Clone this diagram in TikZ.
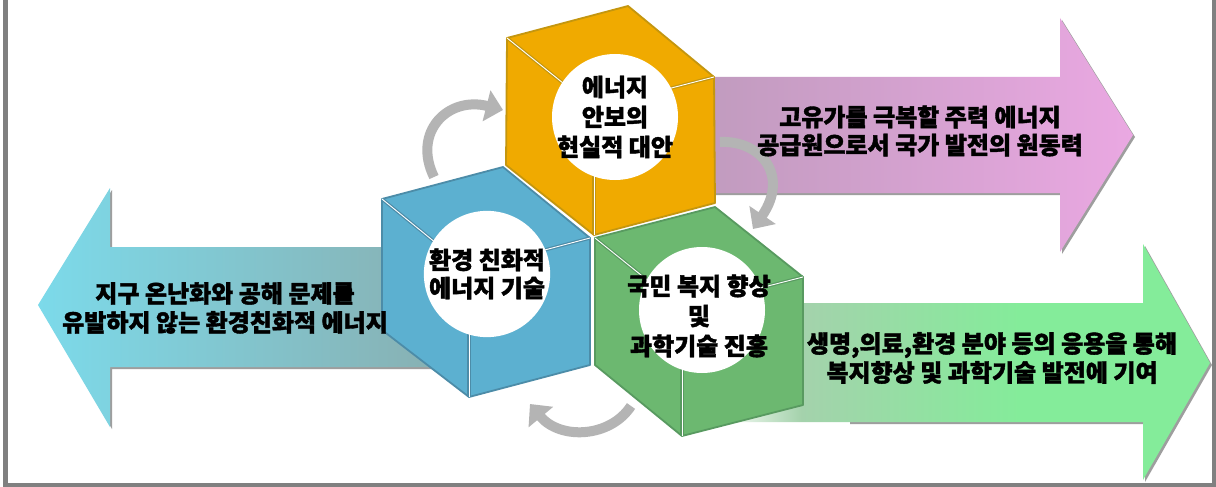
\documentclass[tikz,border=0pt]{standalone}
\usepackage{fontspec}
\newfontfamily\kor[BoldFont={Noto Sans CJK KR Black}, BoldFeatures={FakeBold=1.6}]{Noto Sans CJK KR}
\usepackage{tikz}
\usetikzlibrary{arrows.meta, positioning, calc}

\definecolor{framegray}{HTML}{808080}
\definecolor{cyclegray}{HTML}{B4B4B4}
\definecolor{orangecube}{HTML}{F0AA00}
\definecolor{orangeedge}{HTML}{C4960F}
\definecolor{bluecube}{HTML}{5CB0D0}
\definecolor{blueedge}{HTML}{4C8CA8}
\definecolor{greencube}{HTML}{6CB870}
\definecolor{greenedge}{HTML}{589A60}
\definecolor{sciencepale}{RGB}{236,246,236}
\definecolor{sciencemid}{RGB}{164,210,172}
\definecolor{sciencefull}{RGB}{132,236,154}
\definecolor{climatefull}{RGB}{124,218,234}
\definecolor{climatemid}{RGB}{128,206,218}
\definecolor{climateend}{RGB}{136,176,178}
\definecolor{fuelstart}{RGB}{192,155,190}
\definecolor{fuelfull}{RGB}{234,168,226}

\pgfdeclarehorizontalshading{sciencefade}{100bp}{color(0bp)=(sciencepale); color(25bp)=(sciencepale); color(32bp)=(sciencemid); color(55bp)=(sciencefull); color(100bp)=(sciencefull)}

\tikzset{
  hub/.style={circle, fill=white, minimum size=126pt, inner sep=0pt, align=center, font=\hubfont},
  arrowtext/.style={inner sep=0pt, align=center, font=\hubfont},
  cubeedge/.style={line width=1.8pt, line join=round},
  ridge/.style={line width=1.2pt, double=white, double distance=0.9pt},
  cyclearrow/.style={draw=cyclegray, line width=10pt, -{Triangle[length=17pt, width=31pt]}},
  arrowshadow/.style={fill=black!38, draw=none},
}
\newcommand{\hubfont}{\kor\bfseries\fontsize{24}{30}\selectfont}

\begin{document}
\begin{tikzpicture}[x=1pt, y=-1pt]
\useasboundingbox (0,0) rectangle (1216,487);
\fill[white] (0,0) rectangle (1216,487);
\draw[framegray, line width=4.6pt] (5.6,-6) -- (5.6,484.8) -- (1214.2,484.8) -- (1214.2,-6);

% big arrows behind the cubes
\fill[arrowshadow] (700,79) -- (1062,79) -- (1062,20) -- (1135,137) -- (1062,254) -- (1062,195) -- (700,195) -- cycle;
\shade[left color=fuelstart, middle color=fuelstart!45!fuelfull, right color=fuelfull]
  (700,77) -- (1060,77) -- (1060,18) -- (1133,135) -- (1060,252) -- (1060,193) -- (700,193) -- cycle;

\fill[arrowshadow] (850,305) -- (1145,305) -- (1145,246) -- (1212,365) -- (1145,482) -- (1145,424) -- (850,424) -- cycle;
\shade[shading=sciencefade]
  (735,303) -- (1143,303) -- (1143,244) -- (1210,363) -- (1143,480) -- (1143,422) -- (735,422) -- cycle;

\fill[arrowshadow] (112,190) -- (112,249) -- (440,249) -- (440,369) -- (112,369) -- (112,429) -- (40,307) -- cycle;
\shade[left color=climatefull, middle color=climatemid, right color=climateend]
  (110,188) -- (110,247) -- (440,247) -- (440,367) -- (110,367) -- (110,427) -- (38,305) -- cycle;

% cycle arrows between the cubes
\coordinate (bluestart) at (434,177);
\coordinate (orangeend) at (503,110);
\coordinate (orangestart) at (720,142);
\coordinate (greenend) at (753,229);
\coordinate (greenstart) at (631,406);
\coordinate (blueend) at (530,404);
\draw[cyclearrow] (bluestart) .. controls (412,132) and (448,96) .. (orangeend);
\draw[cyclearrow] (orangestart) .. controls (760,140) and (790,175) .. (greenend);
\draw[cyclearrow] (greenstart) .. controls (610,438) and (560,440) .. (blueend);

% orange cube
\filldraw[fill=orangecube, draw=orangeedge, cubeedge] (507,38) -- (628,6) -- (714,77) -- (715,203) -- (594,235) -- (506,165) -- cycle;
\draw[ridge, draw=orangeedge] (507,38) -- (594,108);
\draw[ridge, draw=orangeedge] (714,77) -- (594,108);
\draw[ridge, draw=orangeedge] (594,235) -- (594,108);
\node[hub] (energyhub) at (615,117) {};
\node[arrowtext] (energytext) at (615,117) {에너지\\안보의\\현실적 대안};

% blue cube
\filldraw[fill=bluecube, draw=blueedge, cubeedge] (382,199) -- (503,167) -- (590,238) -- (590,365) -- (469,397) -- (382,330) -- cycle;
\draw[ridge, draw=blueedge] (382,199) -- (469,270);
\draw[ridge, draw=blueedge] (590,238) -- (469,270);
\draw[ridge, draw=blueedge] (469,397) -- (469,270);
\node[hub] (ecohub) at (487,274) {환경 친화적\\[-2pt]에너지 기술};

% green cube
\filldraw[fill=greencube, draw=greenedge, cubeedge] (595,238) -- (715,207) -- (803,277) -- (803,405) -- (682,436) -- (595,365) -- cycle;
\draw[ridge, draw=greenedge] (595,238) -- (682,308);
\draw[ridge, draw=greenedge] (803,277) -- (682,308);
\draw[ridge, draw=greenedge] (682,436) -- (682,308);
\node[hub] (welfarehub) at (702,310) {};
\node[arrowtext] (welfaretext) at (699,316) {국민 복지 향상\\및\\과학기술 진흥};

% labels on the big arrows
\node[arrowtext] (fuellabel) at (920,131) {고유가를 극복할 주력 에너지\\[-2pt]공급원으로서 국가 발전의 원동력};
\node[arrowtext] (climatelabel) at (225,308) {지구 온난화와 공해 문제를\\[-1pt]유발하지 않는 환경친화적 에너지};
\node[arrowtext] (sciencelabel) at (992,358) {생명,의료,환경 분야 등의 응용을 통해\\[-1pt]복지향상 및 과학기술 발전에 기여};
\end{tikzpicture}
\end{document}
